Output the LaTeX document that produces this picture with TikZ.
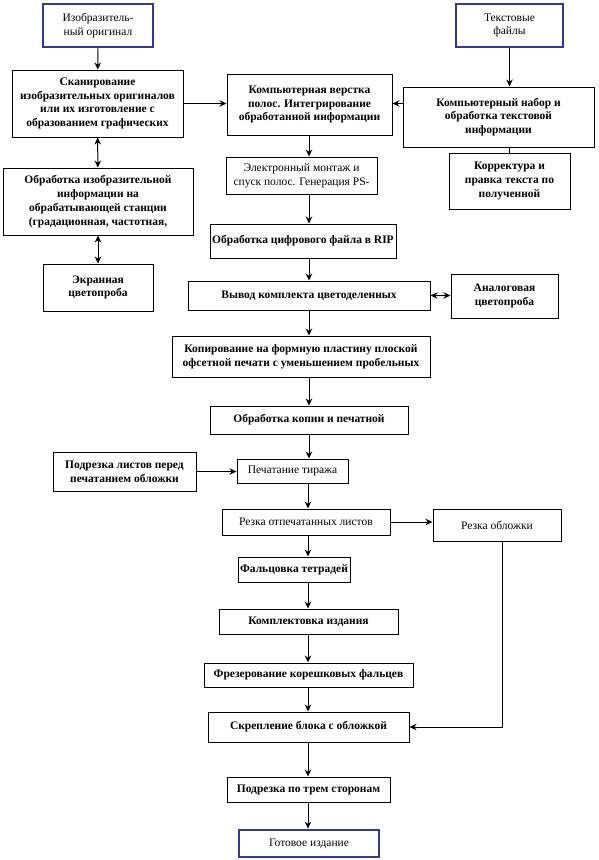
\documentclass[tikz,border=0pt]{standalone}
\usepackage{fontspec}
\setmainfont{Liberation Serif}
\usetikzlibrary{arrows.meta}
\definecolor{bluebd}{RGB}{55,55,150}
\tikzset{
  box/.style={draw=black, line width=1pt, align=center, inner sep=0pt,
    font=\fontsize{11.5}{13.8}\selectfont\bfseries},
  boxr/.style={box, font=\fontsize{11.5}{13.8}\selectfont},
  bluebox/.style={draw=bluebd, line width=2.8pt, align=center, inner sep=0pt,
    font=\fontsize{11.5}{13.8}\selectfont},
  arr/.style={-{Stealth[length=7pt,width=6.5pt]}, line width=1pt},
  darr/.style={{Stealth[length=7pt,width=6.5pt]}-{Stealth[length=7pt,width=6.5pt]}, line width=1pt},
  conn/.style={line width=1pt}
}
\newcommand\bx[7]{\node[#7, minimum width={(#4-#2)*1pt}, minimum height={(#5-#3)*1pt}] (#1) at ({(#2+#4)/2},{(#3+#5)/2}) {#6};}
\begin{document}
\begin{tikzpicture}[x=1pt,y=-1pt]
\fill[white] (0,0) rectangle (598,860);
\useasboundingbox (0,0) rectangle (598,860);
\coordinate (cx) at (309,0);
\coordinate (cy) at (308,0);
% nodes
\bx{A}{43}{4}{153}{47}{Изобразитель-\\ный оригинал}{bluebox}
\bx{B}{456}{4}{563}{47}{Текстовые\\файлы}{bluebox}
\bx{C}{12}{70}{183}{137}{Сканирование\\изобразительных оригиналов\\или их изготовление с\\образованием графических}{box}
\bx{D}{227}{74}{392}{135}{Компьютерная верстка\\полос. Интегрирование\\обработанной информации}{box}
\bx{E}{403}{87}{594}{147}{Компьютерный набор и\\обработка текстовой\\информации}{box}
\bx{F}{449}{153}{570}{209}{Корректура и\\правка текста по\\полученной}{box}
\bx{G}{3}{168}{193}{235}{Обработка изобразительной\\информации на\\обрабатывающей станции\\(градационная, частотная,}{box}
\bx{H}{43}{264}{153}{311}{Экранная\\цветопроба}{box}
\bx{I}{226}{157}{377}{194}{Электронный монтаж и\\спуск полос. Генерация PS-}{boxr}
\bx{J}{210}{224}{396}{258}{Обработка цифрового файла в RIP}{box}
\bx{K}{188}{281}{430}{310}{Вывод комплекта цветоделенных}{box}
\bx{L}{451}{274}{558}{318}{Аналоговая\\цветопроба}{box}
\bx{M}{172}{336}{430}{377}{Копирование на формную пластину плоской\\офсетной печати с уменьшением пробельных}{box}
\bx{O}{210}{406}{408}{434}{Обработка копии и печатной}{box}
\bx{P}{53}{452}{196}{491}{Подрезка листов перед\\печатанием обложки}{box}
\bx{Q}{237}{459}{348}{483}{Печатание тиража}{boxr}
\bx{R}{222}{509}{390}{535}{Резка отпечатанных листов}{boxr}
\bx{S}{433}{509}{561}{541}{Резка обложки}{boxr}
\bx{T}{238}{557}{350}{582}{Фальцовка тетрадей}{box}
\bx{U}{219}{609}{398}{634}{Комплектовка издания}{box}
\bx{V}{204}{663}{413}{687}{Фрезерование корешковых фальцев}{box}
\bx{W}{208}{712}{409}{742}{Скрепление блока с обложкой}{box}
\bx{X}{227}{777}{390}{802}{Подрезка по трем сторонам}{box}
\bx{Y}{239}{830}{379}{857}{Готовое издание}{bluebox}
% connectors
\draw[arr] (A) -- (C);
\draw[darr] (C) -- (G);
\draw[darr] (G) -- (H);
\draw[arr] (C.east) -- (C.east -| D.west);
\draw[arr] (B) -- (B |- E.north);
\draw[arr] (E.west |- C.east) -- (D.east |- C.east);
\draw[conn] (E.south -| B) -- (F.north -| B);
\draw[arr] (D.south -| cx) -- (I.north -| cx);
\draw[arr] (I.south -| cx) -- (J.north -| cx);
\draw[arr] (J.south -| cx) -- (K.north -| cx);
\draw[darr] (K.east) -- (K.east -| L.west);
\draw[arr] (K.south -| cx) -- (M.north -| cx);
\draw[arr] (M.south -| cx) -- (O.north -| cx);
\draw[arr] (O.south -| cx) -- (Q.north -| cx);
\draw[arr] (P.east) -- (P.east -| Q.west);
\draw[arr] (Q.south -| cy) -- (R.north -| cy);
\draw[arr] (R.east) -- (R.east -| S.west);
\draw[arr] (R.south -| cy) -- (T.north -| cy);
\draw[arr] (T.south -| cy) -- (U.north -| cy);
\draw[arr] (U.south -| cy) -- (V.north -| cy);
\draw[arr] (V.south -| cy) -- (W.north -| cy);
\draw[arr] ([xshift=5pt]S.south) |- (W.east);
\draw[arr] (W.south -| cy) -- (X.north -| cy);
\draw[arr] (X.south -| cy) -- (Y.north -| cy);
\end{tikzpicture}
\end{document}
